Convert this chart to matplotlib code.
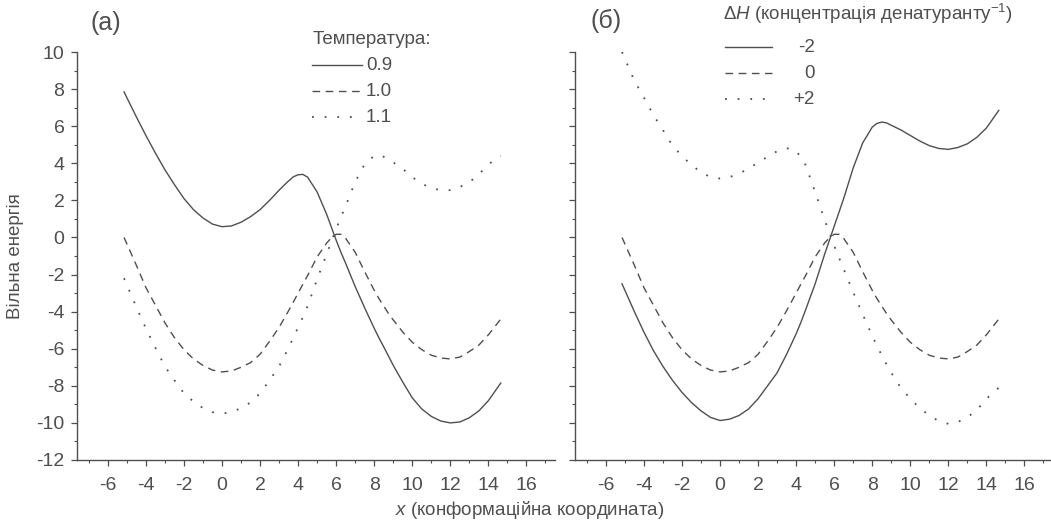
import matplotlib
matplotlib.use('Agg')
from matplotlib import pyplot as plt
from matplotlib.lines import Line2D
from matplotlib.ticker import MultipleLocator

plt.rcParams['font.family'] = ['Liberation Sans', 'DejaVu Sans']
plt.rcParams['axes.unicode_minus'] = False
plt.rcParams['mathtext.fontset'] = 'custom'
plt.rcParams['mathtext.rm'] = 'Liberation Sans'
plt.rcParams['mathtext.it'] = 'Liberation Sans:italic'

W, H = 1051, 526
GREY = '#4f4f4f'

## data ##
x_grid = [-5.15, -4.5, -4.0, -3.5, -3.0, -2.5, -2.0, -1.5, -1.0, -0.5,
          0.0, 0.5, 1.0, 1.5, 2.0, 2.5, 3.0, 3.5, 3.75, 4.0, 4.25, 4.5,
          5.0, 5.5, 5.75, 6.0, 6.25, 6.5, 7.0, 7.5, 8.0, 8.25, 8.5, 8.75, 9.0, 9.5,
          10.0, 10.5, 11.0, 11.5, 12.0, 12.5, 13.0, 13.5, 14.0, 14.65]

# (a) temperature
g_t09 = [7.85, 6.5, 5.5, 4.55, 3.65, 2.85, 2.1, 1.5, 1.05, 0.72,
         0.58, 0.62, 0.82, 1.12, 1.5, 2.0, 2.55, 3.05, 3.27, 3.38, 3.4, 3.25,
         2.45, 1.25, 0.55, -0.15, -0.8, -1.4, -2.65, -3.8, -4.9, -5.42, -5.9, -6.4, -6.9, -7.8,
         -8.65, -9.25, -9.65, -9.9, -10.0, -9.95, -9.72, -9.35, -8.8, -7.85]
g_t10 = [0.0, -1.5, -2.7, -3.65, -4.6, -5.4, -6.05, -6.55, -6.9, -7.15,
         -7.25, -7.2, -7.0, -6.75, -6.3, -5.6, -4.85, -3.95, -3.48, -3.0, -2.52, -2.05,
         -1.05, -0.3, -0.02, 0.17, 0.17, -0.05, -0.8, -1.85, -2.85, -3.3, -3.7, -4.1, -4.45, -5.1,
         -5.65, -6.05, -6.35, -6.5, -6.55, -6.45, -6.15, -5.8, -5.25, -4.4]
g_t11 = [-2.2, -3.75, -4.9, -5.95, -6.95, -7.7, -8.4, -8.85, -9.2, -9.42,
         -9.5, -9.42, -9.2, -8.9, -8.4, -7.7, -6.95, -5.95, -5.4, -4.85, -4.3, -3.7,
         -2.25, -0.9, -0.2, 0.45, 1.1, 1.7, 3.0, 3.95, 4.4, 4.45, 4.35, 4.22, 4.05, 3.7,
         3.25, 2.9, 2.65, 2.55, 2.55, 2.72, 2.98, 3.4, 3.95, 4.4]

# (б) denaturant
g_hm2 = [-2.5, -4.0, -5.1, -6.1, -6.95, -7.7, -8.35, -8.9, -9.35, -9.7,
         -9.87, -9.8, -9.6, -9.25, -8.7, -8.0, -7.3, -6.3, -5.75, -5.2, -4.58, -3.9,
         -2.5, -0.9, -0.15, 0.6, 1.35, 2.1, 3.75, 5.1, 5.95, 6.15, 6.22, 6.18, 6.05, 5.8,
         5.5, 5.2, 4.95, 4.8, 4.75, 4.85, 5.05, 5.4, 5.9, 6.85]
g_h0 = g_t10
g_hp2 = [10.0, 8.45, 7.55, 6.6, 5.8, 4.95, 4.4, 3.9, 3.52, 3.25,
         3.18, 3.25, 3.45, 3.7, 4.05, 4.35, 4.65, 4.8, 4.8, 4.65, 4.35, 3.9,
         2.45, 0.95, 0.25, -0.45, -1.08, -1.7, -2.95, -4.15, -5.3, -5.85, -6.35, -6.85, -7.3, -8.1,
         -8.7, -9.2, -9.6, -9.9, -10.05, -9.95, -9.7, -9.3, -8.7, -8.1]

temp_labels = ['0.9', '1.0', '1.1']
dh_labels = ['-2', '0', '+2']

styles = ['-', (0, (5.5, 4.0)), (0, (1.0, 6.0))]
widths = [1.0, 1.0, 1.3]


def px(x, y):
    return x / W, 1 - y / H


fig = plt.figure(figsize=(W / 100, H / 100), dpi=100)
ax1 = fig.add_axes([77 / W, 66 / H, 478 / W, 408 / H])
ax2 = fig.add_axes([575 / W, 66 / H, 478 / W, 408 / H])

for ax, curves in zip([ax1, ax2], [[g_t09, g_t10, g_t11], [g_hm2, g_h0, g_hp2]]):
    for ys, ls, lw in zip(curves, styles, widths):
        ax.plot(x_grid, ys, color=GREY, linestyle=ls, linewidth=lw)
    ax.set_xlim(-7.62, 17.5)
    ax.set_ylim(-12, 10)
    ax.xaxis.set_major_locator(MultipleLocator(2))
    ax.xaxis.set_minor_locator(MultipleLocator(1))
    ax.yaxis.set_major_locator(MultipleLocator(2))
    ax.yaxis.set_minor_locator(MultipleLocator(1))
    ax.spines['top'].set_visible(False)
    ax.spines['right'].set_visible(False)
    for s in ['left', 'bottom']:
        ax.spines[s].set_color(GREY)
        ax.spines[s].set_linewidth(1.0)
    ax.tick_params(which='major', direction='out', length=4.5, width=0.9,
                   colors=GREY, labelsize=14, pad=4.5)
    ax.tick_params(which='minor', direction='out', length=2.5, width=0.8, colors=GREY)
    ax.tick_params(axis='x', which='major', pad=8)

ax2.tick_params(axis='y', labelleft=False)

## text ##
fig.text(*px(90, 23), '(a)', fontsize=18, color=GREY, ha='left', va='center')
fig.text(*px(590, 21), '(б)', fontsize=18, color=GREY, ha='left', va='center')
fig.text(*px(16, 256), 'Вільна енергія', rotation=90, fontsize=13.5,
         color=GREY, ha='center', va='center')
fig.text(*px(530, 510), '$x$ (конформаційна координата)', fontsize=13.5,
         color=GREY, ha='center', va='center')

# legend (a)
fig.text(*px(313, 40), 'Температура:', fontsize=13.5, color=GREY, ha='left', va='center')
for i, lab in enumerate(temp_labels):
    yy = 65 + 26 * i
    (x0, y0), (x1, _) = px(312, yy), px(362, yy)
    fig.add_artist(Line2D([x0, x1], [y0, y0], transform=fig.transFigure, color=GREY,
                          linestyle=styles[i], linewidth=widths[i]))
    fig.text(*px(366, yy), lab, fontsize=13.5, color=GREY, ha='left', va='center')

# legend (б)
fig.text(*px(723, 14), r'$\Delta\mathit{H}$ (концентрація денатуранту$^{-1}$)',
         fontsize=13.5, color=GREY, ha='left', va='center')
for i, lab in enumerate(dh_labels):
    yy = 47 + 26 * i
    (x0, y0), (x1, _) = px(725, yy), px(772, yy)
    fig.add_artist(Line2D([x0, x1], [y0, y0], transform=fig.transFigure, color=GREY,
                          linestyle=styles[i], linewidth=widths[i]))
    fig.text(*px(815, yy), lab, fontsize=13.5, color=GREY, ha='right', va='center')

fig.savefig('out.png', dpi=100, facecolor='white')
